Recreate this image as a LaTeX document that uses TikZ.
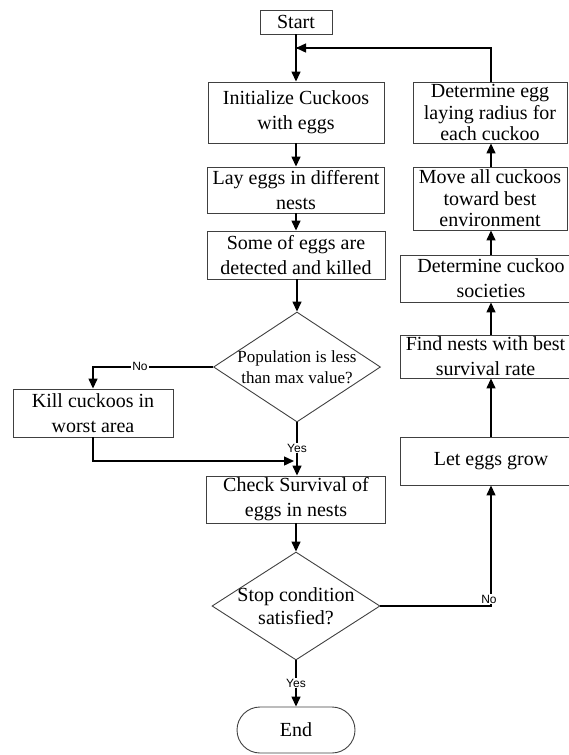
\documentclass[tikz,border=0pt]{standalone}
\usepackage{fontspec}
\setmainfont{Liberation Serif}
\newfontfamily\lblfont{Liberation Sans}
\usetikzlibrary{arrows.meta,shapes.geometric,shapes.misc}
\begin{document}
\begin{tikzpicture}[x=1pt,y=-1pt,
  procbox/.style={draw=black!75,line width=0.9pt,rectangle,inner sep=0pt,align=center,
    font=\fontsize{20}{25}\selectfont},
  threeline/.style={font=\fontsize{20}{21.5}\selectfont},
  diabox/.style={draw=black!75,line width=0.9pt,diamond,inner sep=0pt},
  diatext/.style={align=center,inner sep=0pt},
  conn/.style={line width=1.4pt,-{Triangle[length=10pt,width=9pt]}},
  plain/.style={line width=1.4pt},
  lbl/.style={font=\lblfont\fontsize{12}{13}\selectfont,fill=white,inner sep=1pt}]
\useasboundingbox (0,0) rectangle (569,755);
% main column
\node[procbox,minimum width=72pt,minimum height=24pt] (start) at (296,22) {Start};
\node[procbox,minimum width=176pt,minimum height=61pt] (init) at (296,112.5) {Initialize Cuckoos\\with eggs};
\node[procbox,minimum width=177pt,minimum height=46pt] (lay) at (296,190) {Lay eggs in different\\nests};
\node[procbox,minimum width=178pt,minimum height=48pt] (some) at (296,255) {Some of eggs are\\detected and killed};
\node[diabox,minimum width=167pt,minimum height=110pt] (dia1) at (297,367) {};
\node[diatext,font=\fontsize{17}{21}\selectfont] (dia1t) at (297,367) {Population is less\\than max value?};
\node[procbox,minimum width=160pt,minimum height=48pt] (kill) at (93,413) {Kill cuckoos in\\worst area};
\node[procbox,minimum width=179pt,minimum height=47pt] (check) at (296,499.5) {Check Survival of\\eggs in nests};
\node[diabox,minimum width=168pt,minimum height=108pt] (dia2) at (296,606) {};
\node[diatext,font=\fontsize{20}{23}\selectfont] (dia2t) at (296,606) {Stop condition\\satisfied?};
\node[procbox,rounded rectangle,minimum width=118pt,minimum height=46pt] (end) at (296,730) {End};
% right column
\node[procbox,threeline,minimum width=154pt,minimum height=61pt] (deggs) at (490,112.5) {Determine egg\\laying radius for\\each cuckoo};
\node[procbox,threeline,minimum width=154pt,minimum height=63pt] (move) at (490,198.5) {Move all cuckoos\\toward best\\environment};
\node[procbox,minimum width=182pt,minimum height=47pt] (soc) at (491,278.5) {Determine cuckoo\\societies};
\node[procbox,minimum width=182pt,minimum height=43pt] (find) at (491,356.5) {};
\node[diatext,font=\fontsize{20}{25}\selectfont] (findt) at (485.5,356.5) {Find nests with best\\survival rate};
\node[procbox,minimum width=182pt,minimum height=48pt] (grow) at (491,461) {Let eggs grow};
% helper coordinates
\coordinate (loopR) at (491,48);
\coordinate (loopL) at (297,48);
\coordinate (noL) at (93,367);
\coordinate (killB) at (93,461);
\coordinate (merge) at (294,461);
\coordinate (noR) at (491,606);
% connectors
\draw[conn] (start.south) -- (init.north);
\draw[plain] (deggs.north -| loopR) -- (loopR) -- (loopL);
\draw[conn] (loopR) -- ([xshift=-1pt]loopL);
\draw[conn] (init.south) -- (lay.north);
\draw[conn] (lay.south) -- (some.north);
\draw[conn] (some.south -| dia1.north) -- (dia1.north);
\draw[conn] (dia1.west) -- (noL) -- (kill.north);
\node[lbl] (no1) at (140,366) {No};
\draw[conn] (kill.south) -- (killB) -- (merge);
\draw[conn] (dia1.south) -- (check.north -| dia1.south);
\node[lbl] (yes1) at (297,448) {Yes};
\draw[conn] (check.south) -- (dia2.north);
\draw[conn] (dia2.south) -- (end.north);
\node[lbl] (yes2) at (296,683) {Yes};
\draw[conn] (dia2.east) -- (noR) -- (grow.south);
\node[lbl] (no2) at (489,599) {No};
\draw[conn] (grow.north) -- (find.south);
\draw[conn] (find.north) -- (soc.south);
\draw[conn] (soc.north) -- (move.south -| soc.north);
\draw[conn] (move.north -| soc.north) -- (deggs.south -| soc.north);
\end{tikzpicture}
\end{document}
